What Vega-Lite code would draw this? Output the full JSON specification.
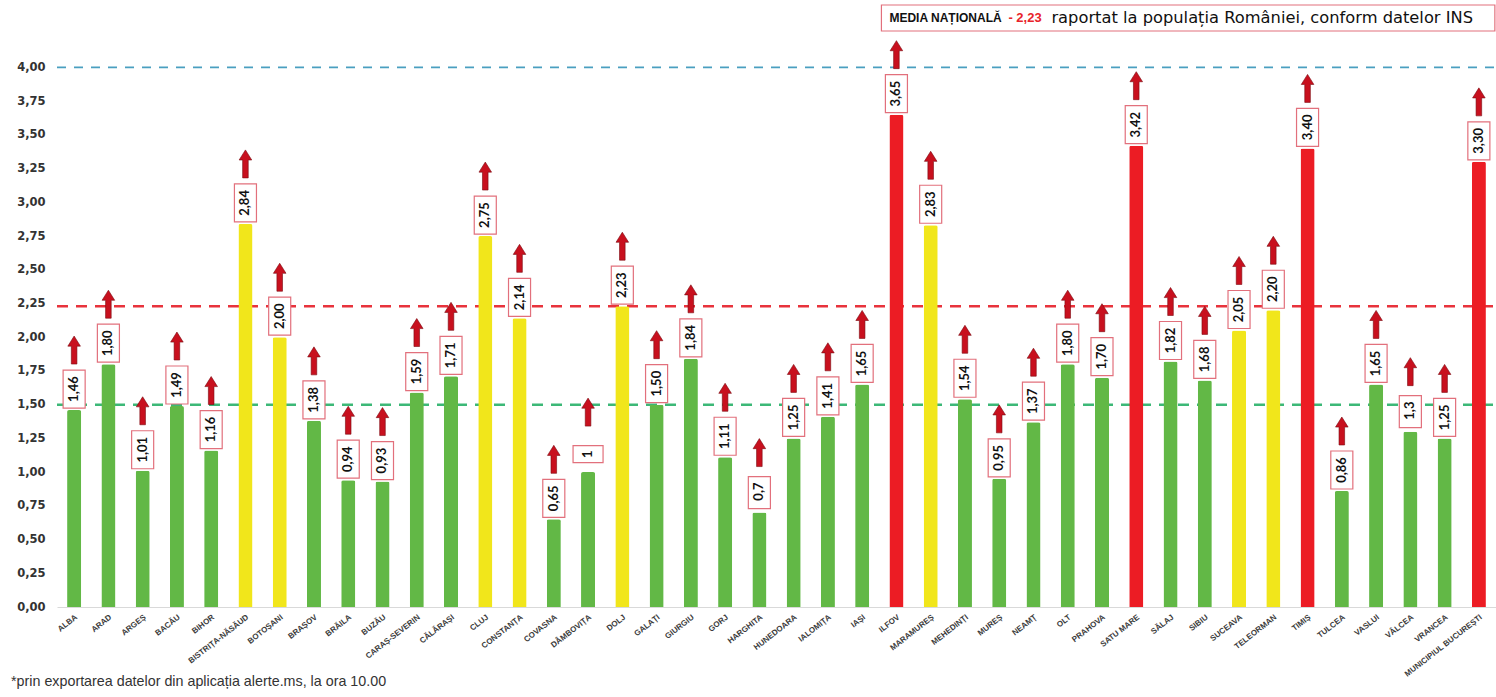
{
  "$schema": "https://vega.github.io/schema/vega-lite/v6.json",
  "autosize": {"type": "none"},
  "width": 1439,
  "height": 607,
  "padding": {"left": 57, "top": 0, "right": 0, "bottom": 90},
  "background": "white",
  "title": {
    "text": "*prin exportarea datelor din aplicația alerte.ms, la ora 10.00",
    "orient": "bottom",
    "anchor": "start",
    "frame": "group",
    "font": "Liberation Sans",
    "fontSize": 14.3,
    "fontWeight": "normal",
    "color": "#333333",
    "dx": -46,
    "offset": -3
  },
  "config": {
    "view": {"stroke": null}
  },
  "data": {
    "values": [
      {"judet": "ALBA", "rata": 1.46, "eticheta": "1,46", "scenariu": "verde"},
      {"judet": "ARAD", "rata": 1.80, "eticheta": "1,80", "scenariu": "verde"},
      {"judet": "ARGEȘ", "rata": 1.01, "eticheta": "1,01", "scenariu": "verde"},
      {"judet": "BACĂU", "rata": 1.49, "eticheta": "1,49", "scenariu": "verde"},
      {"judet": "BIHOR", "rata": 1.16, "eticheta": "1,16", "scenariu": "verde"},
      {"judet": "BISTRIȚA-NĂSĂUD", "rata": 2.84, "eticheta": "2,84", "scenariu": "galben"},
      {"judet": "BOTOȘANI", "rata": 2.00, "eticheta": "2,00", "scenariu": "galben"},
      {"judet": "BRAȘOV", "rata": 1.38, "eticheta": "1,38", "scenariu": "verde"},
      {"judet": "BRĂILA", "rata": 0.94, "eticheta": "0,94", "scenariu": "verde"},
      {"judet": "BUZĂU", "rata": 0.93, "eticheta": "0,93", "scenariu": "verde"},
      {"judet": "CARAȘ-SEVERIN", "rata": 1.59, "eticheta": "1,59", "scenariu": "verde"},
      {"judet": "CĂLĂRAȘI", "rata": 1.71, "eticheta": "1,71", "scenariu": "verde"},
      {"judet": "CLUJ", "rata": 2.75, "eticheta": "2,75", "scenariu": "galben"},
      {"judet": "CONSTANȚA", "rata": 2.14, "eticheta": "2,14", "scenariu": "galben"},
      {"judet": "COVASNA", "rata": 0.65, "eticheta": "0,65", "scenariu": "verde"},
      {"judet": "DÂMBOVIȚA", "rata": 1.00, "eticheta": "1", "scenariu": "verde"},
      {"judet": "DOLJ", "rata": 2.23, "eticheta": "2,23", "scenariu": "galben"},
      {"judet": "GALAȚI", "rata": 1.50, "eticheta": "1,50", "scenariu": "verde"},
      {"judet": "GIURGIU", "rata": 1.84, "eticheta": "1,84", "scenariu": "verde"},
      {"judet": "GORJ", "rata": 1.11, "eticheta": "1,11", "scenariu": "verde"},
      {"judet": "HARGHITA", "rata": 0.70, "eticheta": "0,7", "scenariu": "verde"},
      {"judet": "HUNEDOARA", "rata": 1.25, "eticheta": "1,25", "scenariu": "verde"},
      {"judet": "IALOMIȚA", "rata": 1.41, "eticheta": "1,41", "scenariu": "verde"},
      {"judet": "IAȘI", "rata": 1.65, "eticheta": "1,65", "scenariu": "verde"},
      {"judet": "ILFOV", "rata": 3.65, "eticheta": "3,65", "scenariu": "rosu"},
      {"judet": "MARAMUREȘ", "rata": 2.83, "eticheta": "2,83", "scenariu": "galben"},
      {"judet": "MEHEDINȚI", "rata": 1.54, "eticheta": "1,54", "scenariu": "verde"},
      {"judet": "MUREȘ", "rata": 0.95, "eticheta": "0,95", "scenariu": "verde"},
      {"judet": "NEAMȚ", "rata": 1.37, "eticheta": "1,37", "scenariu": "verde"},
      {"judet": "OLT", "rata": 1.80, "eticheta": "1,80", "scenariu": "verde"},
      {"judet": "PRAHOVA", "rata": 1.70, "eticheta": "1,70", "scenariu": "verde"},
      {"judet": "SATU MARE", "rata": 3.42, "eticheta": "3,42", "scenariu": "rosu"},
      {"judet": "SĂLAJ", "rata": 1.82, "eticheta": "1,82", "scenariu": "verde"},
      {"judet": "SIBIU", "rata": 1.68, "eticheta": "1,68", "scenariu": "verde"},
      {"judet": "SUCEAVA", "rata": 2.05, "eticheta": "2,05", "scenariu": "galben"},
      {"judet": "TELEORMAN", "rata": 2.20, "eticheta": "2,20", "scenariu": "galben"},
      {"judet": "TIMIȘ", "rata": 3.40, "eticheta": "3,40", "scenariu": "rosu"},
      {"judet": "TULCEA", "rata": 0.86, "eticheta": "0,86", "scenariu": "verde"},
      {"judet": "VASLUI", "rata": 1.65, "eticheta": "1,65", "scenariu": "verde"},
      {"judet": "VÂLCEA", "rata": 1.30, "eticheta": "1,3", "scenariu": "verde"},
      {"judet": "VRANCEA", "rata": 1.25, "eticheta": "1,25", "scenariu": "verde"},
      {"judet": "MUNICIPIUL BUCUREȘTI", "rata": 3.30, "eticheta": "3,30", "scenariu": "rosu"}
    ]
  },
  "encoding": {
    "x": {
      "field": "judet",
      "type": "nominal",
      "sort": null,
      "scale": {"paddingInner": 0.59, "paddingOuter": 0.295},
      "axis": {
        "title": null,
        "labelAngle": -38,
        "labelFont": "Liberation Sans",
        "labelFontWeight": "bold",
        "labelFontSize": 8,
        "labelColor": "#3a3a3a",
        "ticks": false,
        "labelPadding": 6,
        "domainColor": "#d9d9d9",
        "domainWidth": 1,
        "labelOverlap": false
      }
    },
    "y": {
      "field": "rata",
      "type": "quantitative",
      "scale": {"domain": [0, 4.5], "nice": false},
      "axis": {
        "title": null,
        "values": [0, 0.25, 0.5, 0.75, 1, 1.25, 1.5, 1.75, 2, 2.25, 2.5, 2.75, 3, 3.25, 3.5, 3.75, 4],
        "labelExpr": "replace(format(datum.value, '.2f'), '.', ',')",
        "labelFont": "DejaVu Sans",
        "labelFontWeight": "bold",
        "labelFontSize": 11.5,
        "labelColor": "#333333",
        "ticks": false,
        "domain": false,
        "grid": false,
        "labelPadding": 12
      }
    }
  },
  "layer": [
    {
      "data": {"values": [{"prag": 4}]},
      "mark": {"type": "rule", "color": "#4a9fc0", "strokeWidth": 1.8, "strokeDash": [9, 8]},
      "encoding": {"y": {"field": "prag", "type": "quantitative"}, "x": {"value": 0}, "x2": {"value": 1439}}
    },
    {
      "data": {"values": [{"prag": 2.23}]},
      "mark": {"type": "rule", "color": "#e8333c", "strokeWidth": 2.5, "strokeDash": [11, 8]},
      "encoding": {"y": {"field": "prag", "type": "quantitative"}, "x": {"value": 0}, "x2": {"value": 1439}}
    },
    {
      "data": {"values": [{"prag": 1.5}]},
      "mark": {"type": "rule", "color": "#3cb877", "strokeWidth": 2.5, "strokeDash": [11, 8]},
      "encoding": {"y": {"field": "prag", "type": "quantitative"}, "x": {"value": 0}, "x2": {"value": 1439}}
    },
    {
      "mark": {"type": "bar", "cornerRadiusTopLeft": 2, "cornerRadiusTopRight": 2},
      "encoding": {
        "color": {
          "field": "scenariu",
          "type": "nominal",
          "scale": {"domain": ["verde", "galben", "rosu"], "range": ["#62b846", "#f1e61b", "#ec1c24"]},
          "legend": null
        }
      }
    },
    {
      "transform": [{"filter": "length(datum.eticheta) == 4"}],
      "mark": {"type": "point", "filled": true, "fill": "white", "stroke": "#e2707c", "strokeWidth": 1.2, "opacity": 1, "size": 1444, "shape": "M-0.58,-1H0.58V1H-0.58Z", "yOffset": -21}
    },
    {
      "transform": [{"filter": "length(datum.eticheta) == 3"}],
      "mark": {"type": "point", "filled": true, "fill": "white", "stroke": "#e2707c", "strokeWidth": 1.2, "opacity": 1, "size": 1024, "shape": "M-0.69,-1H0.69V1H-0.69Z", "yOffset": -20}
    },
    {
      "transform": [{"filter": "length(datum.eticheta) == 1"}],
      "mark": {"type": "point", "filled": true, "fill": "white", "stroke": "#e2707c", "strokeWidth": 1.2, "opacity": 1, "size": 900, "shape": "M-1,-0.57H1V0.57H-1Z", "yOffset": -18}
    },
    {
      "transform": [{"filter": "length(datum.eticheta) != 1"}],
      "mark": {"type": "text", "angle": 270, "align": "center", "baseline": "middle", "font": "Lato", "fontWeight": "bold", "fontSize": 13, "color": "#111111", "yOffset": -21},
      "encoding": {"text": {"field": "eticheta"}}
    },
    {
      "transform": [{"filter": "length(datum.eticheta) == 1"}],
      "mark": {"type": "text", "angle": 270, "align": "center", "baseline": "middle", "font": "Lato", "fontWeight": "bold", "fontSize": 13, "color": "#111111", "yOffset": -18},
      "encoding": {"text": {"field": "eticheta"}}
    },
    {
      "mark": {"type": "point", "filled": true, "fill": "#c8101e", "stroke": "#7a0a10", "strokeWidth": 0.6, "opacity": 1, "size": 784, "shape": "M0,-1L0.45,-0.28L0.2,-0.28L0.2,1L-0.2,1L-0.2,-0.28L-0.45,-0.28Z", "yOffset": -60}
    },
    {
      "data": {"values": [{"de_la": "ILFOV", "pana_la": "MUNICIPIUL BUCUREȘTI", "sus": 4.463, "jos": 4.27}]},
      "mark": {"type": "rect", "fill": "white", "stroke": "#e2707c", "strokeWidth": 1.2, "xOffset": -15, "x2Offset": 16},
      "encoding": {
        "x": {"field": "de_la", "type": "nominal"},
        "x2": {"field": "pana_la"},
        "y": {"field": "sus", "type": "quantitative"},
        "y2": {"field": "jos"}
      }
    },
    {
      "data": {"values": [{"judet": "ILFOV", "pozitie": 4.366, "text": "MEDIA NAȚIONALĂ"}]},
      "mark": {"type": "text", "align": "left", "baseline": "middle", "font": "Liberation Sans", "fontWeight": "bold", "fontSize": 12, "color": "#111111", "dx": -7},
      "encoding": {"y": {"field": "pozitie", "type": "quantitative"}, "text": {"field": "text"}}
    },
    {
      "data": {"values": [{"judet": "ILFOV", "pozitie": 4.366, "text": "- 2,23"}]},
      "mark": {"type": "text", "align": "left", "baseline": "middle", "font": "Liberation Sans", "fontWeight": "bold", "fontSize": 13, "color": "#e8232b", "dx": 112},
      "encoding": {"y": {"field": "pozitie", "type": "quantitative"}, "text": {"field": "text"}}
    },
    {
      "data": {"values": [{"judet": "ILFOV", "pozitie": 4.366, "text": "raportat la populația României, conform datelor INS"}]},
      "mark": {"type": "text", "align": "left", "baseline": "middle", "font": "DejaVu Sans", "fontWeight": "normal", "fontSize": 16.3, "color": "#111111", "dx": 155},
      "encoding": {"y": {"field": "pozitie", "type": "quantitative"}, "text": {"field": "text"}}
    }
  ]
}
